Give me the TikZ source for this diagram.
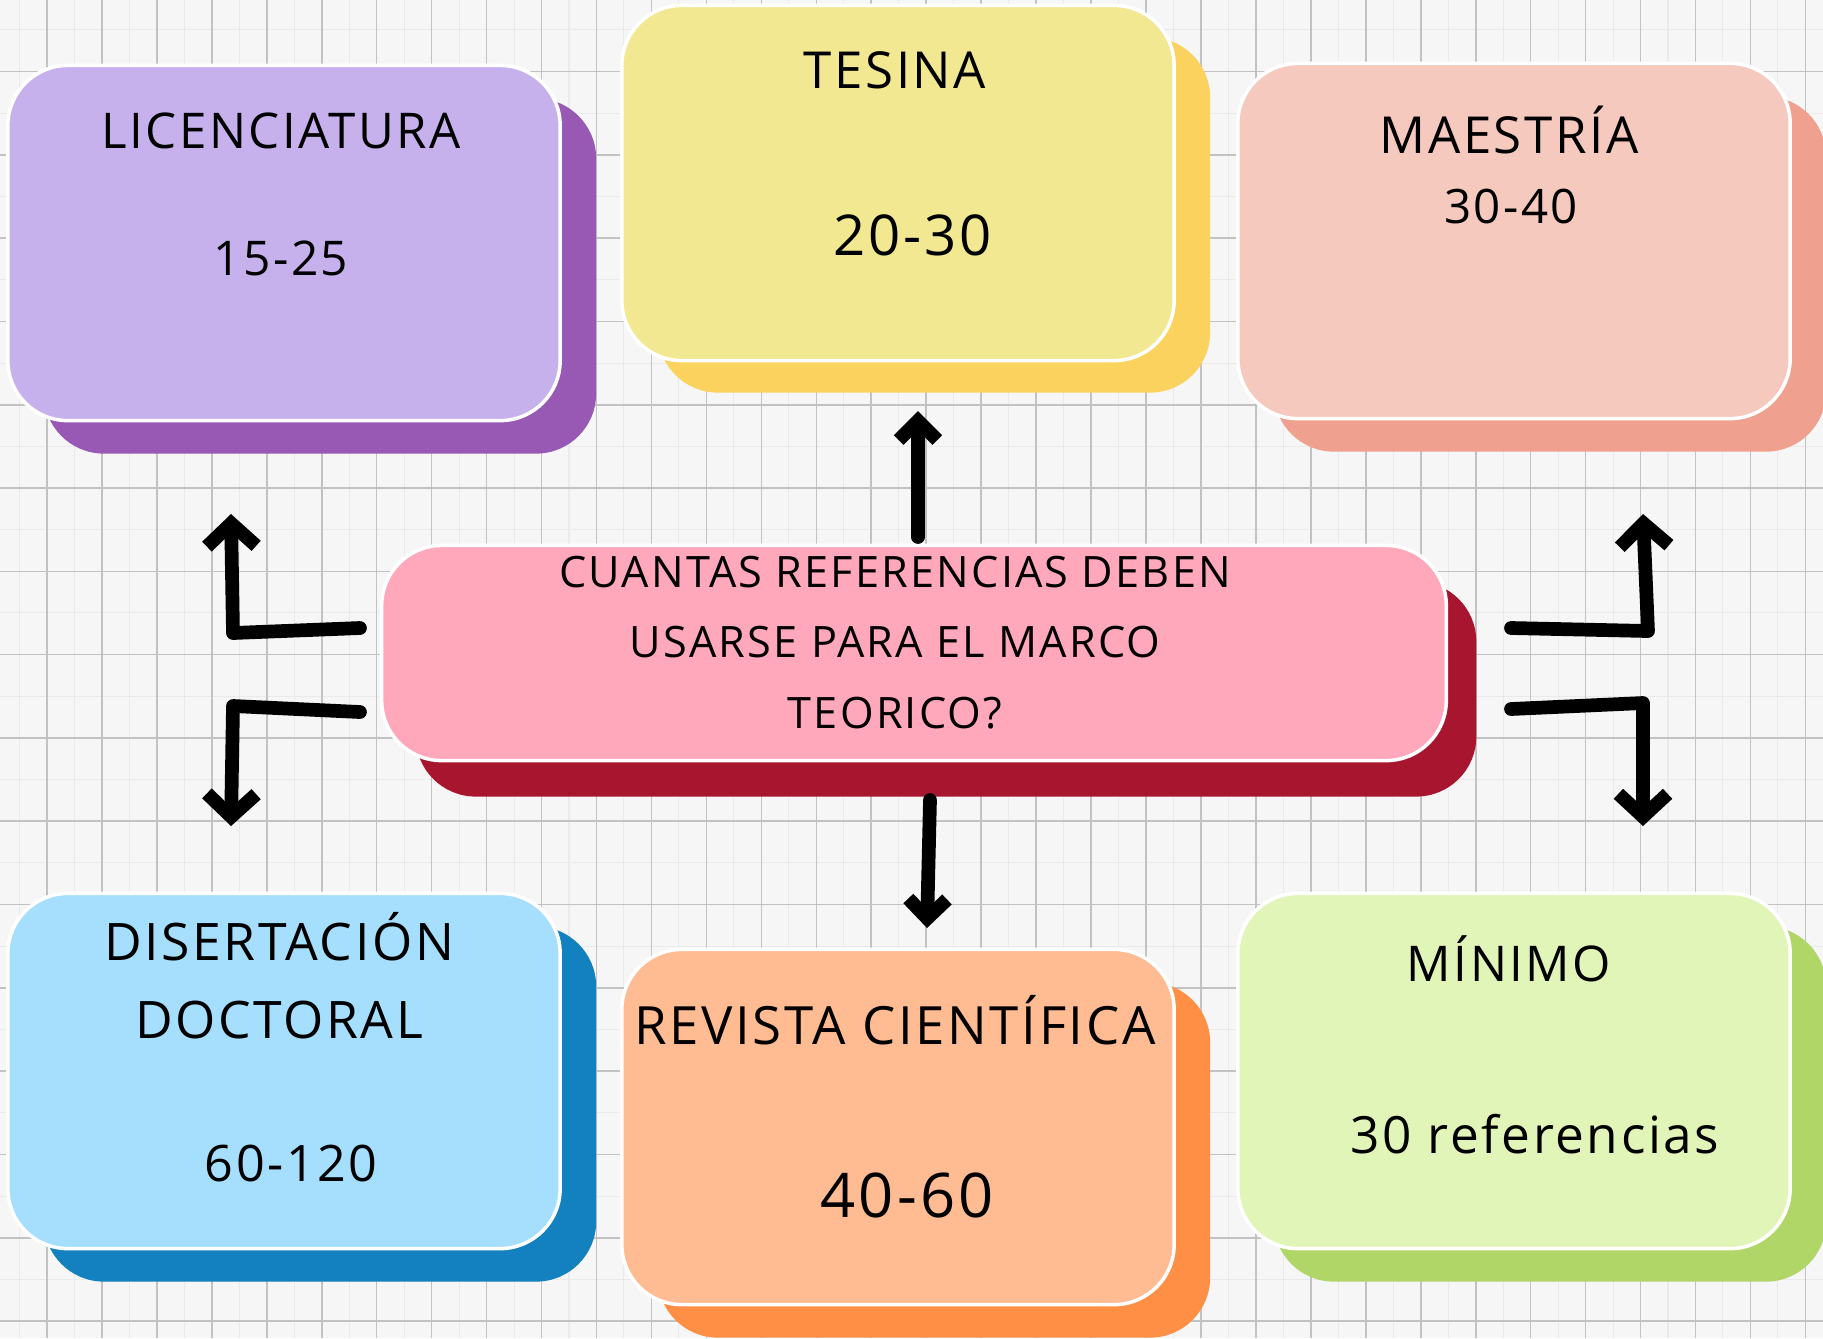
\documentclass[tikz,border=0pt]{standalone}
\usepackage{fontspec}
\setmainfont{Open Sans}
\newfontfamily\hand{Open Sans}[LetterSpace=5]
\usetikzlibrary{arrows.meta}
\definecolor{bgc}{HTML}{F6F6F6}
\definecolor{gridmaj}{HTML}{C2C2C2}
\definecolor{gridmin}{HTML}{EAEAEA}
\definecolor{licF}{HTML}{C6B1EC}\definecolor{licS}{HTML}{9759B4}
\definecolor{tesF}{HTML}{F2E892}\definecolor{tesS}{HTML}{FCD25E}
\definecolor{maeF}{HTML}{F5C9BE}\definecolor{maeS}{HTML}{EFA08E}
\definecolor{cenF}{HTML}{FFA8BC}\definecolor{cenS}{HTML}{A8152F}
\definecolor{disF}{HTML}{A6DEFD}\definecolor{disS}{HTML}{1380C0}
\definecolor{revF}{HTML}{FFBC92}\definecolor{revS}{HTML}{FF8F45}
\definecolor{minF}{HTML}{E2F5B8}\definecolor{minS}{HTML}{AFD666}
\begin{document}
\begin{tikzpicture}[x=0.01cm,y=-0.01cm,
  card/.style={rectangle, rounded corners=0.6cm, minimum width=5.52cm, minimum height=3.55cm, inner sep=0pt},
  front/.style={card, draw=white, line width=1pt},
  wide/.style={rectangle, rounded corners=0.6cm, minimum width=10.64cm, minimum height=2.15cm, inner sep=0pt},
  lbl/.style={font=\hand, text=black, inner sep=0pt, align=center},
  conn/.style={line width=3.9pt, line cap=round, line join=round},
  tipS/.style={-{Straight Barb[length=5.5pt,width=11pt]}},
  tipL/.style={-{Straight Barb[length=6.5pt,width=14pt]}}
]
% background and grid
\useasboundingbox (0,0) rectangle (1823,1338);
\fill[bgc] (0,0) rectangle (1823,1338);
\foreach \i in {0,...,66} \draw[gridmin, line width=0.3pt] ({19.5+27.475*\i},0) -- ({19.5+27.475*\i},1338);
\foreach \i in {0,...,32} \draw[gridmin, line width=0.3pt] (0,{29.85+41.65*\i}) -- (1823,{29.85+41.65*\i});
\foreach \i in {0,...,32} \draw[gridmaj, line width=0.45pt] ({47+54.95*\i},0) -- ({47+54.95*\i},1338);
\foreach \i in {0,...,16} \draw[gridmaj, line width=0.45pt] (0,{71.5+83.3*\i}) -- (1823,{71.5+83.3*\i});

% cards: shadows then fronts
\node[card, fill=licS] (licSh) at (320,276) {};
\node[front, fill=licF] (lic) at (284,243) {};
\node[card, fill=tesS] (tesSh) at (934,215) {};
\node[front, fill=tesF] (tes) at (898,183) {};
\node[card, fill=maeS] (maeSh) at (1550,274) {};
\node[front, fill=maeF] (mae) at (1514,241) {};
\node[card, fill=disS] (disSh) at (320,1104) {};
\node[front, fill=disF] (dis) at (284,1071) {};
\node[card, fill=revS] (revSh) at (934,1160) {};
\node[front, fill=revF] (rev) at (898,1127) {};
\node[card, fill=minS] (minSh) at (1550,1104) {};
\node[front, fill=minF] (mini) at (1514,1071) {};
\node[wide, fill=cenS, minimum width=10.6cm] (cenSh) at (946,689) {};
\node[wide, fill=cenF, draw=white, line width=1pt] (cen) at (914,653) {};

% texts
\node[lbl, font=\hand\fontsize{14}{17}\selectfont] (licT) at (281,131) {LICENCIATURA};
\node[lbl, font=\hand\fontsize{13.6}{17}\selectfont] (licN) at (281,258) {15-25};
\node[lbl, font=\hand\fontsize{14.5}{18}\selectfont] (tesT) at (895,70) {TESINA};
\node[lbl, font=\hand\fontsize{16}{19}\selectfont] (tesN) at (913,235) {20-30};
\node[lbl, font=\hand\fontsize{14.5}{18}\selectfont] (maeT) at (1509,130) {MAESTRÍA};
\node[lbl, font=\hand\fontsize{13.5}{16}\selectfont] (maeN) at (1511,207) {30-40};
\node[lbl, font=\hand\fontsize{12.3}{15}\selectfont] (cen1) at (895,572) {CUANTAS REFERENCIAS DEBEN};
\node[lbl, font=\hand\fontsize{12.3}{15}\selectfont] (cen2) at (895,642) {USARSE PARA EL MARCO};
\node[lbl, font=\hand\fontsize{12.3}{15}\selectfont] (cen3) at (895,713) {TEORICO?};
\node[lbl, font=\hand\fontsize{14.7}{18}\selectfont] (disT1) at (279,937) {DISERTACIÓN};
\node[lbl, font=\hand\fontsize{14.7}{18}\selectfont] (disT2) at (279,1020) {DOCTORAL};
\node[lbl, font=\hand\fontsize{14.3}{18}\selectfont] (disN) at (291,1163) {60-120};
\node[lbl, font=\hand\fontsize{15}{18}\selectfont] (revT) at (895,1020) {REVISTA CIENTÍFICA};
\node[lbl, font=\hand\fontsize{17.5}{20}\selectfont] (revN) at (907,1195) {40-60};
\node[lbl, font=\hand\fontsize{14}{17}\selectfont] (minT) at (1509,959) {MÍNIMO};
\node[lbl, font=\hand\fontsize{14.6}{18}\selectfont] (minN) at (1535,1134) {30 referencias};

% connector coordinates
\coordinate (upS) at (918,537);  \coordinate (upE) at (918,411);
\coordinate (dnS) at (930,800);  \coordinate (dnE) at (927,928);
\coordinate (luS) at (360,628);  \coordinate (luC) at (233,633); \coordinate (luE) at (231,514);
\coordinate (ldS) at (360,712);  \coordinate (ldC) at (233,706); \coordinate (ldE) at (231,826);
\coordinate (ruS) at (1511,628); \coordinate (ruC) at (1648,631); \coordinate (ruE) at (1643,514);
\coordinate (rdS) at (1511,709); \coordinate (rdC) at (1643,703); \coordinate (rdE) at (1643,826);

\draw[conn, tipS] (upS) -- (upE);
\draw[conn, tipS] (dnS) -- (dnE);
\draw[conn, tipL] (luS) -- (luC) -- (luE);
\draw[conn, tipL] (ldS) -- (ldC) -- (ldE);
\draw[conn, tipL] (ruS) -- (ruC) -- (ruE);
\draw[conn, tipL] (rdS) -- (rdC) -- (rdE);
\end{tikzpicture}
\end{document}
